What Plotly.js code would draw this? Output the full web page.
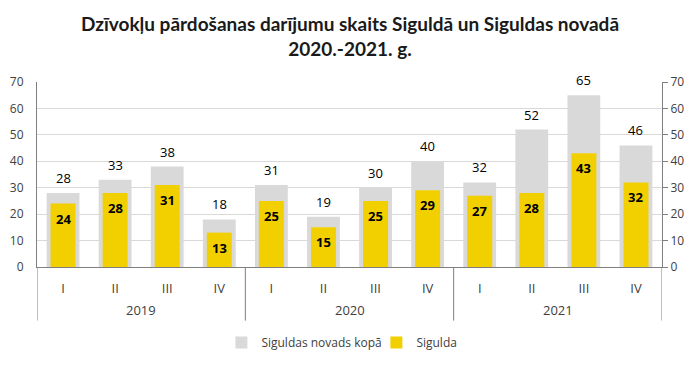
<!DOCTYPE html>
<html><head><meta charset="utf-8">
<script src="https://cdn.plot.ly/plotly-3.0.1.min.js"></script>
<style>html,body{margin:0;padding:0;background:#fff;}#c{width:700px;height:367px;}</style>
</head><body><div id="c"></div>
<script>
const years = ["2019","2019","2019","2019","2020","2020","2020","2020","2021","2021","2021","2021"];
const quarters = ["I","II","III","IV","I","II","III","IV","I","II","III","IV"];
const novadsKopa = [28,33,38,18,31,19,30,40,32,52,65,46];
const sigulda = [24,28,31,13,25,15,25,29,27,28,43,32];
const yTicks = [0,10,20,30,40,50,60,70];

const fontFam = "Open Sans, Liberation Sans, sans-serif";
const xcats = years.map((y,i)=>y+' '+quarters[i]);

const traces = [
  {type:'bar', name:'Siguldas novads kopā', x:xcats, y:novadsKopa,
   width:0.63, marker:{color:'#d9d9d9'}, hoverinfo:'skip'},
  {type:'bar', name:'Sigulda', x:xcats, y:sigulda,
   width:0.48, marker:{color:'#f2d000'}, hoverinfo:'skip'},
  {type:'bar', x:xcats, y:novadsKopa, yaxis:'y2', showlegend:false,
   marker:{color:'rgba(0,0,0,0)'}, width:0.63, hoverinfo:'skip'}
];

const annotations = [];
novadsKopa.forEach((v,i)=>annotations.push({x:i, y:v, xref:'x', yref:'y', text:String(v), showarrow:false,
  yanchor:'middle', yshift:15, font:{family:fontFam, size:13, color:'#000'}}));
sigulda.forEach((v,i)=>annotations.push({x:i, y:v, xref:'x', yref:'y', text:'<b>'+v+'</b>', showarrow:false,
  yanchor:'middle', yshift:-15, font:{family:fontFam, size:13, color:'#000'}}));

// year group labels and dividers
const groups = [];
years.forEach((y,i)=>{
  if(!groups.length || groups[groups.length-1].year!==y) groups.push({year:y, start:i, end:i});
  else groups[groups.length-1].end = i;
});
const shapes = [];
groups.forEach(g=>{
  annotations.push({x:(g.start+g.end)/2, y:-0.231, xref:'x', yref:'paper', text:g.year, showarrow:false,
    yanchor:'middle', font:{family:fontFam, size:13, color:'#404040'}});
  shapes.push({type:'line', xref:'x', yref:'paper', x0:g.start-0.5, x1:g.start-0.5, y0:0, y1:-0.29,
    line:{color:'#7f7f7f', width:1}});
});
const lastG = groups[groups.length-1];
shapes.push({type:'line', xref:'x', yref:'paper', x0:lastG.end+0.5, x1:lastG.end+0.5, y0:0, y1:-0.29,
  line:{color:'#7f7f7f', width:1}});

const layout = {
  width:700, height:367,
  margin:{l:37, r:38, t:82, b:99},
  paper_bgcolor:'#fff', plot_bgcolor:'#fff',
  barmode:'overlay',
  title:{text:'<b>Dzīvokļu pārdošanas darījumu skaits Siguldā un Siguldas novadā<br>2020.-2021. g.</b>',
         x:0.5, xanchor:'center', yref:'container', y:0.916, yanchor:'middle',
         font:{family:'Lato, Open Sans, sans-serif', size:19, color:'#1a1a1a'}},
  xaxis:{type:'category', range:[-0.5, xcats.length-0.5], tickvals:xcats, ticktext:quarters,
         showline:true, linecolor:'#7f7f7f', linewidth:1, automargin:false, ticklabelstandoff:9,
         tickfont:{family:fontFam, size:13, color:'#404040'}, ticks:'', showgrid:false},
  yaxis:{range:[0,70], tickvals:yTicks, showgrid:true, gridcolor:'#d9d9d9', zeroline:false, automargin:false,
         showline:true, linecolor:'#7f7f7f', ticks:'', ticklen:0, ticklabelstandoff:10,
         tickfont:{family:fontFam, size:12, color:'#404040'}},
  yaxis2:{range:[0,70], tickvals:yTicks, overlaying:'y', side:'right', showgrid:false, zeroline:false, automargin:false,
          showline:true, linecolor:'#7f7f7f', ticks:'outside', ticklen:5, tickcolor:'#7f7f7f',
          tickfont:{family:fontFam, size:12, color:'#404040'}},
  legend:{orientation:'h', x:0.543, xanchor:'center', y:-0.40, yanchor:'middle',
          font:{family:fontFam, size:12, color:'#404040'}, entrywidth:110, entrywidthmode:'pixels'},
  annotations:annotations,
  shapes:shapes,
  showlegend:true
};
Plotly.newPlot('c', traces, layout, {displayModeBar:false, staticPlot:true});
</script></body></html>
